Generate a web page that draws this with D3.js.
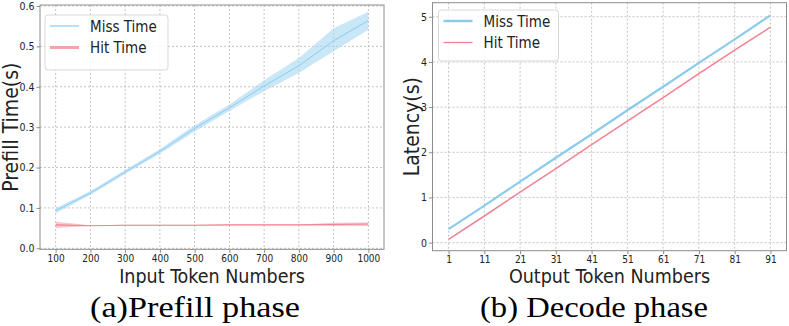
<!DOCTYPE html>
<html>
<head>
  <meta charset="utf-8" />
  <title>Prefill / Decode latency</title>
  <style>
    body { margin: 0; background: white; }
    .lbl { font-family: "DejaVu Sans Condensed", "DejaVu Sans", sans-serif; fill: #222; }
    .cap { font-family: 'Liberation Serif', serif; fill: #000; }
    .grid line { stroke: #b5b5b5; stroke-width: 0.8; stroke-dasharray: 2,2; }
    .frame { fill: none; stroke: #8c8c8c; stroke-width: 1; }
  </style>
</head>
<body>
  <svg width="789" height="326"></svg>
  <script src="https://d3js.org/d3.v7.min.js"></script>
  <script>
    // (a) prefill: input tokens vs prefill time
    var prefillX = [100, 200, 300, 400, 500, 600, 700, 800, 900, 1000];
    var missMean = [0.093, 0.137, 0.189, 0.240, 0.297, 0.348, 0.402, 0.452, 0.514, 0.564];
    var missLo = [0.087, 0.132, 0.184, 0.234, 0.289, 0.340, 0.389, 0.434, 0.488, 0.541];
    var missHi = [0.099, 0.142, 0.194, 0.246, 0.305, 0.356, 0.416, 0.471, 0.545, 0.586];
    var hitMean = [0.058, 0.056, 0.057, 0.057, 0.057, 0.058, 0.058, 0.058, 0.059, 0.060];
    var hitLo = [0.050, 0.055, 0.056, 0.056, 0.056, 0.057, 0.057, 0.057, 0.055, 0.055];
    var hitHi = [0.066, 0.057, 0.058, 0.058, 0.058, 0.059, 0.059, 0.059, 0.063, 0.064];
    var prefillYTicks = [0, 0.1, 0.2, 0.3, 0.4, 0.5, 0.6];

    // (b) decode: output tokens vs latency
    var decodeX = [1, 11, 21, 31, 41, 51, 61, 71, 81, 91];
    var missDecode = [0.30, 0.82, 1.35, 1.88, 2.40, 2.93, 3.45, 3.98, 4.50, 5.03];
    var hitDecode = [0.07, 0.59, 1.12, 1.64, 2.17, 2.69, 3.21, 3.74, 4.26, 4.77];
    var decodeYTicks = [0, 1, 2, 3, 4, 5];

    var blue = "#8ccbee", blueBand = "#a6d7f4";
    var red = "#f08391", redBand = "#f4a3ad";

    var svg = d3.select("svg");

    function panel(opt) {
      var x = d3.scaleLinear().domain(opt.xDomain).range([opt.left, opt.right]);
      var y = d3.scaleLinear().domain(opt.yDomain).range([opt.bottom, opt.top]);
      var g = svg.append("g");

      var grid = g.append("g").attr("class", "grid");
      grid.selectAll(".vx").data(opt.xTicks).enter().append("line")
        .attr("x1", d => x(d)).attr("x2", d => x(d))
        .attr("y1", opt.top).attr("y2", opt.bottom);
      grid.selectAll(".hy").data(opt.yTicks).enter().append("line")
        .attr("x1", opt.left).attr("x2", opt.right)
        .attr("y1", d => y(d)).attr("y2", d => y(d));

      // ticks
      var xa = g.append("g").attr("transform", "translate(0," + opt.bottom + ")")
        .call(d3.axisBottom(x).tickValues(opt.xTicks).tickSize(3.5).tickPadding(2).tickFormat(d3.format("d")));
      xa.select(".domain").remove();
      xa.selectAll("line").attr("stroke", "#8c8c8c");
      xa.selectAll("text").attr("class", "lbl").style("font-size", "10px").attr("fill", "#333");

      var ya = g.append("g").attr("transform", "translate(" + opt.left + ",0)")
        .call(d3.axisLeft(y).tickValues(opt.yTicks).tickSize(3.5).tickPadding(2).tickFormat(opt.yFormat));
      ya.select(".domain").remove();
      ya.selectAll("line").attr("stroke", "#8c8c8c");
      ya.selectAll("text").attr("class", "lbl").style("font-size", "10.5px").attr("fill", "#333");

      g.append("rect").attr("class", "frame")
        .attr("x", opt.left).attr("y", opt.top)
        .attr("width", opt.right - opt.left).attr("height", opt.bottom - opt.top);

      // axis titles
      g.append("text").attr("class", "lbl")
        .attr("x", (opt.left + opt.right) / 2).attr("y", 283)
        .attr("text-anchor", "middle").style("font-size", "19.5px").text(opt.xLabel);
      g.append("text").attr("class", "lbl")
        .attr("transform", "translate(" + opt.yLabelX + "," + ((opt.top + opt.bottom) / 2) + ") rotate(-90)")
        .attr("text-anchor", "middle").style("font-size", "21px").text(opt.yLabel);

      // caption under the panel
      g.append("text").attr("class", "cap")
        .attr("x", opt.capX).attr("y", 317)
        .attr("textLength", opt.capLen).attr("lengthAdjust", "spacingAndGlyphs")
        .style("font-size", "29px")
        .text(opt.caption);

      return { g: g, x: x, y: y };
    }

    // ---- left panel
    var p1 = panel({
      left: 40, right: 384, top: 5, bottom: 249.3,
      xDomain: [55, 1045], yDomain: [-0.0025, 0.6025],
      xTicks: prefillX, yTicks: prefillYTicks, yFormat: d3.format(".1f"),
      xLabel: "Input Token Numbers", yLabel: "Prefill Time(s)", yLabelX: 18,
      caption: "(a)Prefill phase", capX: 90, capLen: 210
    });
    var idx = d3.range(prefillX.length);
    var area1 = d3.area().x(i => p1.x(prefillX[i]));
    var line1 = d3.line().x(i => p1.x(prefillX[i]));

    p1.g.append("path").datum(idx).attr("fill", blueBand).attr("opacity", 0.6)
      .attr("d", area1.y0(i => p1.y(missLo[i])).y1(i => p1.y(missHi[i])));
    p1.g.append("path").datum(idx).attr("fill", "none").attr("stroke", blue).attr("stroke-width", 1)
      .attr("d", line1.y(i => p1.y(missMean[i])));
    p1.g.append("path").datum(idx).attr("fill", redBand).attr("opacity", 0.6)
      .attr("d", area1.y0(i => p1.y(hitLo[i])).y1(i => p1.y(hitHi[i])));
    p1.g.append("path").datum(idx).attr("fill", "none").attr("stroke", red).attr("stroke-width", 1.1)
      .attr("d", line1.y(i => p1.y(hitMean[i])));

    // ---- right panel
    var p2 = panel({
      left: 432.5, right: 786.5, top: 2.7, bottom: 250.7,
      xDomain: [-3.5, 95.5], yDomain: [-0.178, 5.311],
      xTicks: decodeX, yTicks: decodeYTicks, yFormat: d3.format("d"),
      xLabel: "Output Token Numbers", yLabel: "Latency(s)", yLabelX: 419,
      caption: "(b) Decode phase", capX: 480, capLen: 228
    });
    var line2 = d3.line().x(i => p2.x(decodeX[i]));
    p2.g.append("path").datum(idx).attr("fill", "none").attr("stroke", blue).attr("stroke-width", 2.2)
      .attr("d", line2.y(i => p2.y(missDecode[i])));
    p2.g.append("path").datum(idx).attr("fill", "none").attr("stroke", red).attr("stroke-width", 1.5)
      .attr("d", line2.y(i => p2.y(hitDecode[i])));

    // ---- legends
    function legend(bx, by, bw, bh, items) {
      var lg = svg.append("g");
      lg.append("rect").attr("x", bx).attr("y", by).attr("width", bw).attr("height", bh)
        .attr("rx", 3).attr("fill", "white").attr("fill-opacity", 0.85)
        .attr("stroke", "#d9d9d9").attr("stroke-width", 1);
      items.forEach(function (it, i) {
        var cy = by + 11 + i * 21.5;
        lg.append("line").attr("x1", bx + 5).attr("x2", bx + 34)
          .attr("y1", cy).attr("y2", cy)
          .attr("stroke", it.color).attr("stroke-width", it.width);
        lg.append("text").attr("class", "lbl").attr("x", bx + 45).attr("y", cy + 5.5)
          .style("font-size", "15px").text(it.label);
      });
    }
    legend(45, 15, 123, 55, [
      { label: "Miss Time", color: blue, width: 1.2 },
      { label: "Hit Time", color: redBand, width: 3 }
    ]);
    legend(438.5, 10, 120, 51, [
      { label: "Miss Time", color: blue, width: 2.5 },
      { label: "Hit Time", color: red, width: 1.3 }
    ]);
  </script>
</body>
</html>
